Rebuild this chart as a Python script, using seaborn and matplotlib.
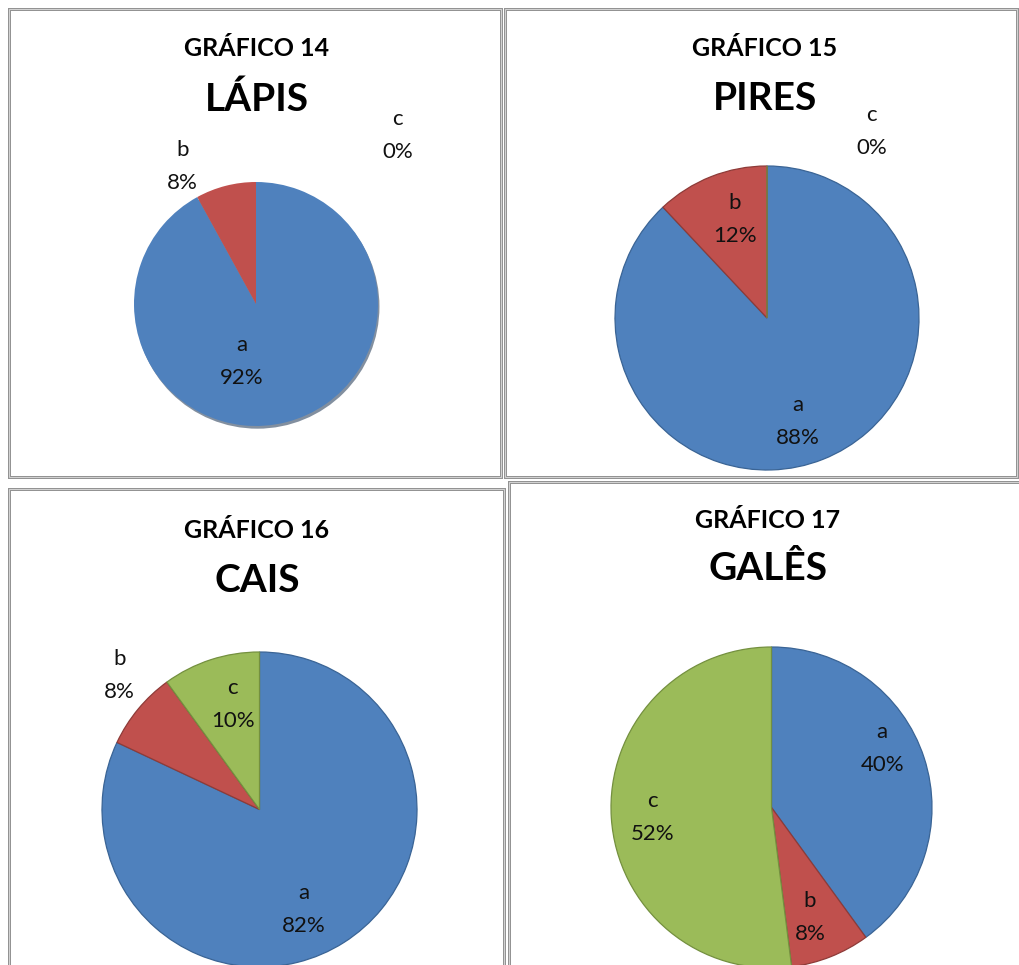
import matplotlib
matplotlib.use("Agg")
import matplotlib.pyplot as plt
from matplotlib.patches import Rectangle, Circle
import seaborn as sns
import pandas as pd

# --- data -------------------------------------------------------------
categories = ["a", "b", "c"]
chart_numbers = ["GRÁFICO 14", "GRÁFICO 15", "GRÁFICO 16", "GRÁFICO 17"]
words = ["LÁPIS", "PIRES", "CAIS", "GALÊS"]
lapis = [92, 8, 0]
pires = [88, 12, 0]
cais = [82, 8, 10]
gales = [40, 8, 52]

df = pd.DataFrame({"categoria": categories * 4,
                   "palavra": [w for w in words for _ in categories],
                   "pct": lapis + pires + cais + gales})

# --- style ------------------------------------------------------------
sns.set_theme(style="white")
plt.rcParams["font.family"] = ["Lato", "DejaVu Sans"]
fills = sns.color_palette(["#4F81BD", "#C0504D", "#9BBB59"])
edges = sns.color_palette(["#3A6495", "#8E3B38", "#74903F"])

W, H = 1019, 965
fig = plt.figure(figsize=(W / 100, H / 100), dpi=100)


def fx(x):
    return x / W


def fy(y):
    return 1 - y / H


# panel frames (x0, y0, x1, y1) in pixels from the top-left corner
frames = [(9, 9, 501, 477), (505, 9, 1017, 477),
          (9, 489, 504, 1010), (509, 482, 1040, 1010)]
for x0, y0, x1, y1 in frames:
    for lw, col in ((3, "#939393"), (1, "#d2d2d2")):
        fig.patches.append(Rectangle((fx(x0), fy(y1)), fx(x1) - fx(x0),
                                     fy(y0) - fy(y1), transform=fig.transFigure,
                                     fill=False, linewidth=lw * 0.72,
                                     edgecolor=col, zorder=5))

# title positions (centre x, y of first line, y of second line)
title_pos = [(257, 48, 99), (765, 48, 99), (257, 531, 580), (768, 521, 569)]

# pie geometry: centre x, centre y, radius (pixels)
pie_geom = [(256, 304, 122), (767, 318, 152), (259.5, 809.5, 157.5),
            (771.5, 807.5, 160.5)]

# label anchors in radius units for a, b, c
label_pos = [
    [(-0.12, -0.52), (-0.60, 1.08), (1.16, 1.33)],
    [(0.20, -0.72), (-0.21, 0.61), (0.69, 1.19)],
    [(0.28, -0.67), (-0.89, 0.81), (-0.17, 0.63)],
    [(0.69, 0.33), (0.24, -0.72), (-0.74, -0.10)],
]

for i, word in enumerate(words):
    sub = df[df["palavra"] == word]
    vals = sub["pct"].tolist()
    cx, cy, r = pie_geom[i]
    half = 1.6 * r
    ax = fig.add_axes([fx(cx - half), fy(cy + half), 2 * half / W, 2 * half / H])
    ax.axis("off")

    if i == 0:
        # soft rim shading under the first pie
        ax.add_patch(Circle((0.012, -0.022), 1.0, color="#2f4560", alpha=0.6,
                            zorder=0, linewidth=0))
    wedges, _ = ax.pie(vals, colors=fills, startangle=90, counterclock=False,
                       radius=1.0, center=(0, 0), frame=False)
    for w, ec in zip(wedges, edges):
        if i == 0:
            w.set_linewidth(0)
        else:
            w.set_edgecolor(ec)
            w.set_linewidth(0.9)
    ax.set_xlim(-1.6, 1.6)
    ax.set_ylim(-1.6, 1.6)

    for cat, v, (lx, ly) in zip(categories, vals, label_pos[i]):
        ax.annotate(cat, (lx, ly), xytext=(0, 16.5), textcoords="offset pixels",
                    ha="center", va="baseline", fontsize=16, color="#111111",
                    annotation_clip=False)
        ax.annotate(f"{v}%", (lx, ly), xytext=(0, -16.5),
                    textcoords="offset pixels", ha="center", va="baseline",
                    fontsize=16, color="#111111", annotation_clip=False)

    tx, ty1, ty2 = title_pos[i]
    fig.text(fx(tx), fy(ty1), chart_numbers[i], ha="center", va="center",
             fontsize=18, fontweight="bold", color="black")
    fig.text(fx(tx), fy(ty2), word, ha="center", va="center",
             fontsize=28, fontweight="bold", color="black")

fig.savefig("out.png", dpi=100, facecolor="white")
